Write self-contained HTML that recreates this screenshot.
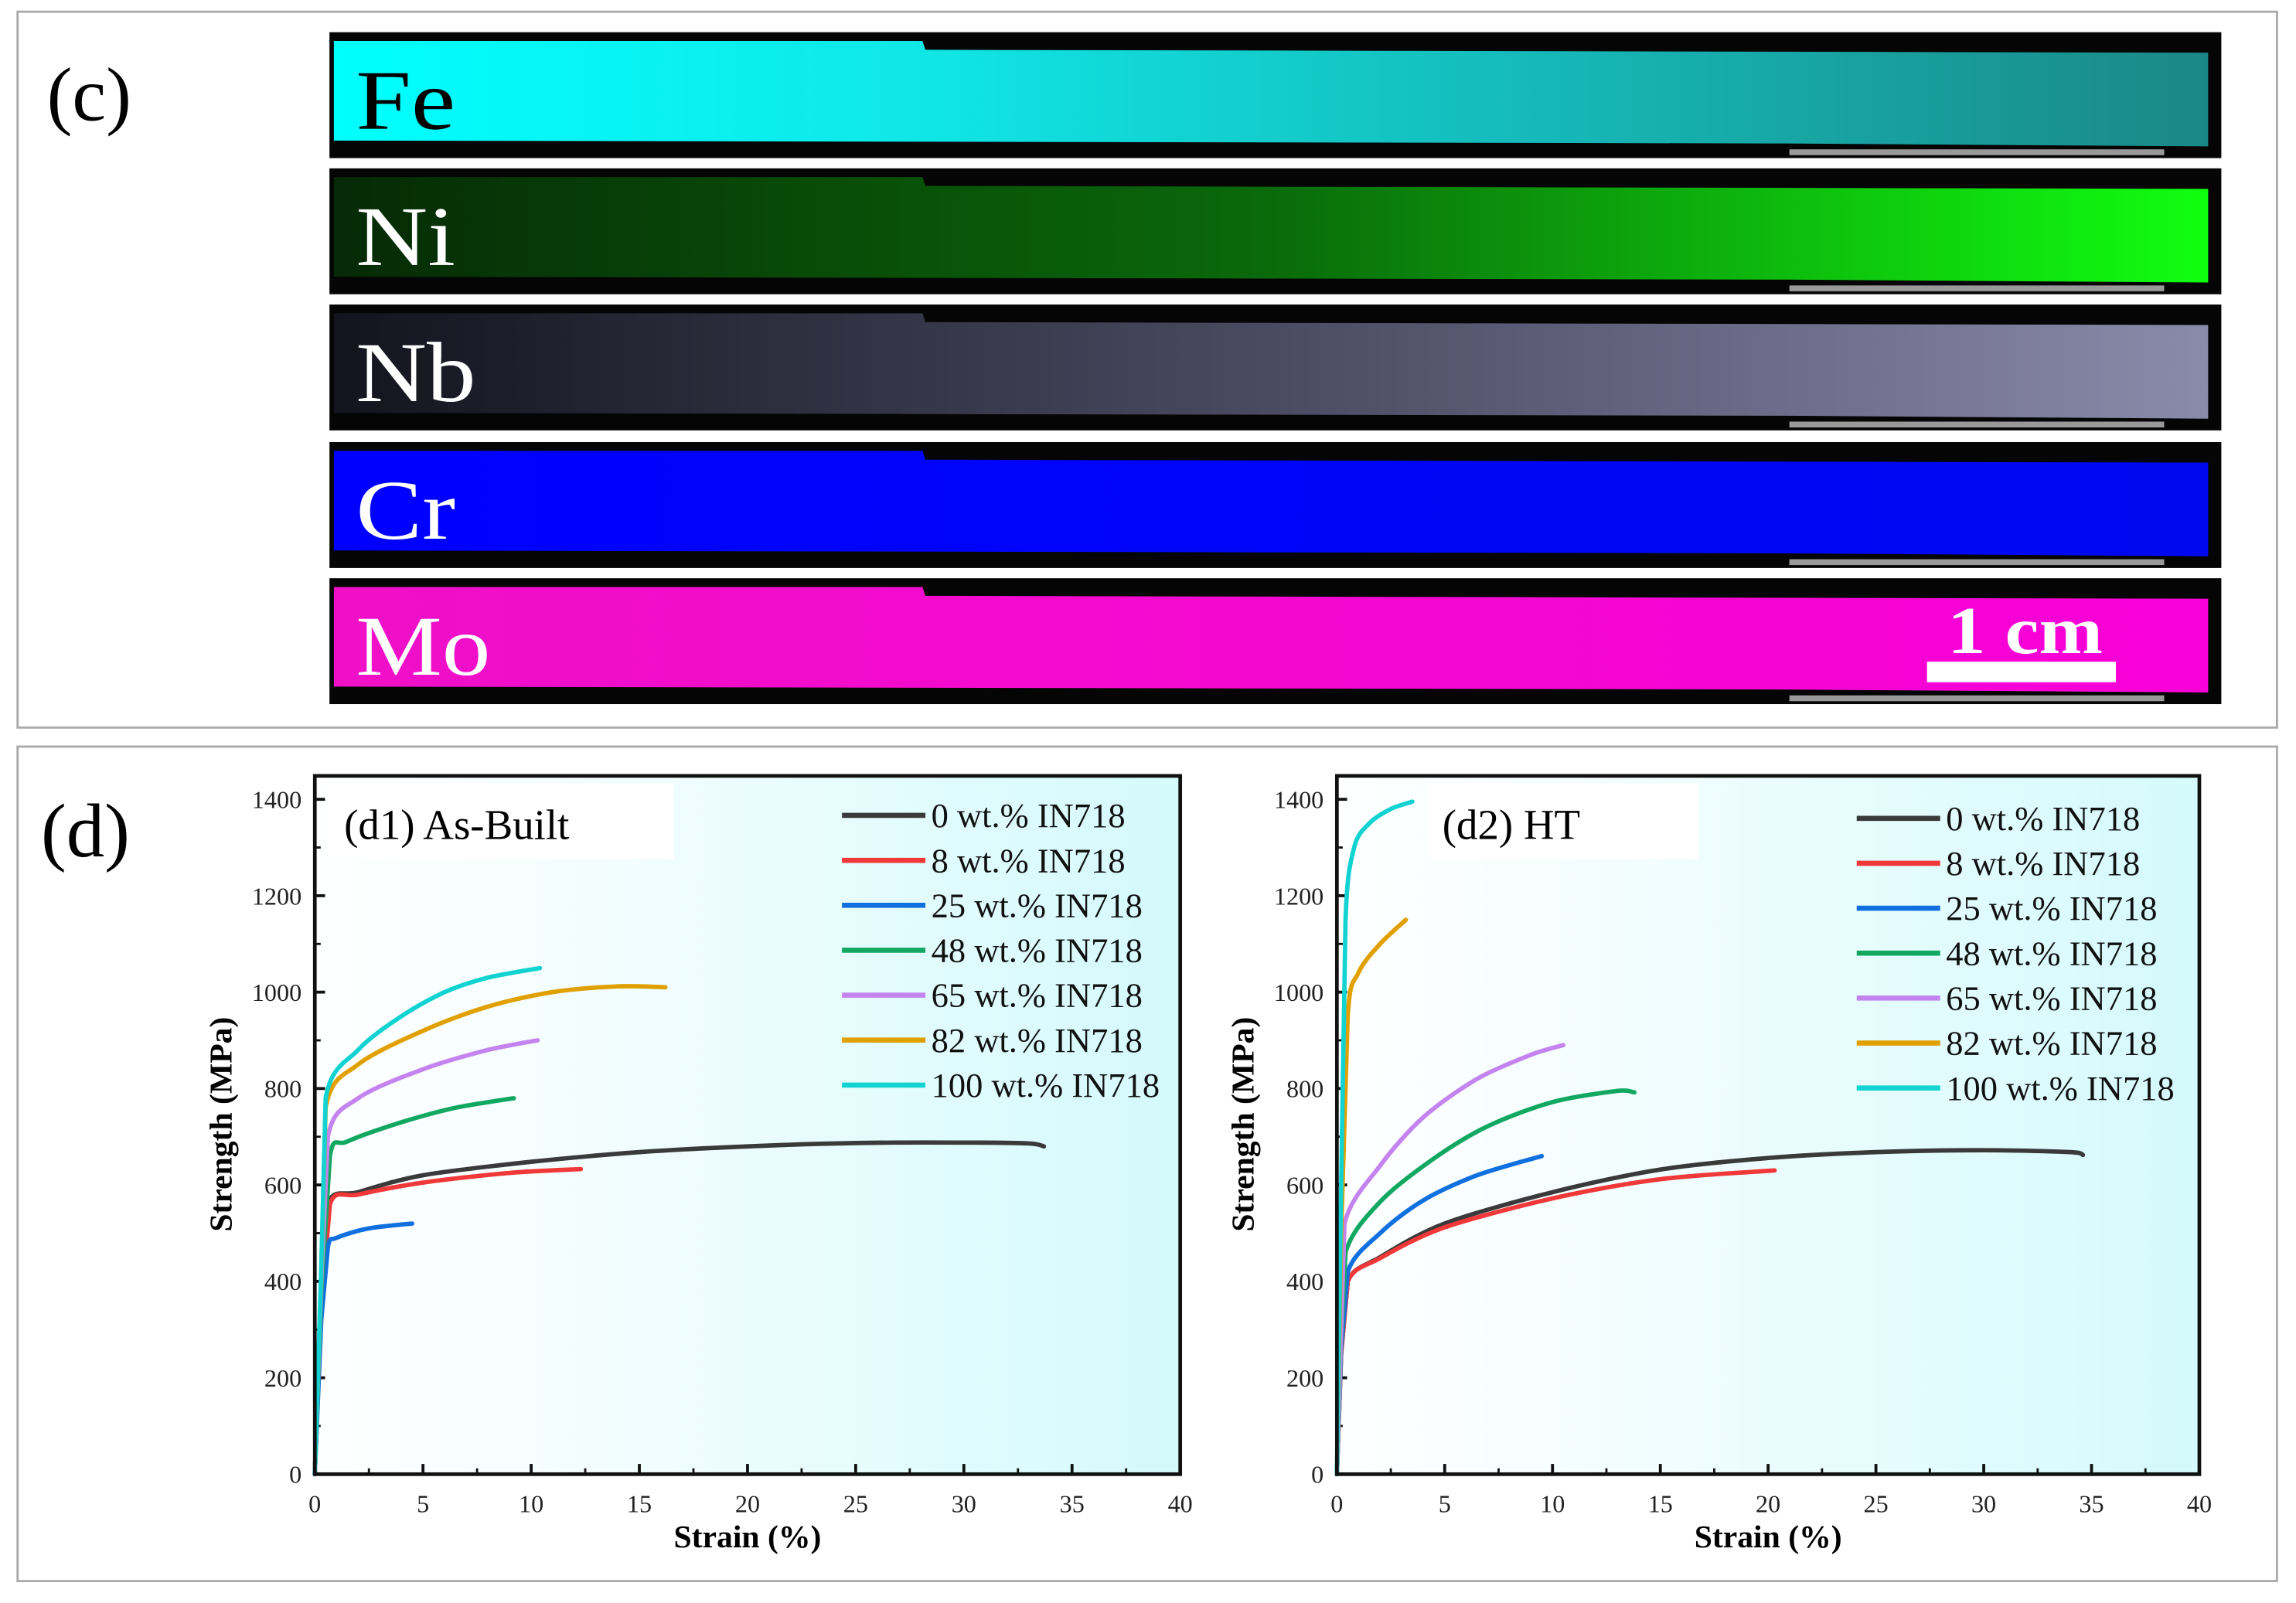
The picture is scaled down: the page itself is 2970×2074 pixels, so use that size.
<!DOCTYPE html>
<html><head><meta charset="utf-8"><style>
html,body{margin:0;padding:0;background:#fff;}
svg{display:block;}
text{font-family:"Liberation Serif",serif;}
</style></head><body>
<svg id="fig" width="2970" height="2074" viewBox="0 0 1568 1095" preserveAspectRatio="none" xmlns="http://www.w3.org/2000/svg">
<defs>
<linearGradient id="gFe" x1="0" x2="1"><stop offset="0" stop-color="#00ffff"/><stop offset="0.3" stop-color="#10e8e8"/><stop offset="1" stop-color="#1a8886"/></linearGradient>
<linearGradient id="gNi" x1="0" x2="1"><stop offset="0" stop-color="#062a06"/><stop offset="0.5" stop-color="#0a6a0a"/><stop offset="1" stop-color="#10ff10"/></linearGradient>
<linearGradient id="gNb" x1="0" x2="1"><stop offset="0" stop-color="#14141e"/><stop offset="0.5" stop-color="#4a4a62"/><stop offset="1" stop-color="#8a8aaa"/></linearGradient>
<linearGradient id="gCr" x1="0" x2="1"><stop offset="0" stop-color="#0000ff"/><stop offset="1" stop-color="#0008f0"/></linearGradient>
<linearGradient id="gMo" x1="0" x2="1"><stop offset="0" stop-color="#f010c8"/><stop offset="1" stop-color="#f800d8"/></linearGradient>
<linearGradient id="gPlot" x1="0" x2="1"><stop offset="0" stop-color="#ffffff"/><stop offset="0.35" stop-color="#f2fdfe"/><stop offset="1" stop-color="#d4fafc"/></linearGradient>
</defs>
<rect x="12" y="8" width="1543" height="489" fill="#fff" stroke="#aaa" stroke-width="1.5"/>
<text x="32" y="82" font-size="52">(c)</text>
<g id="strips"></g>
<rect x="12" y="510" width="1543" height="570" fill="#fff" stroke="#aaa" stroke-width="1.5"/>
<text x="28" y="585" font-size="52">(d)</text>
<g id="d1"></g>
<g id="d2"></g>
</svg>
<script>
const NS='http://www.w3.org/2000/svg';
function mk(tag,attrs,parent,txt){const e=document.createElementNS(NS,tag);for(const k in attrs)e.setAttribute(k,attrs[k]);if(txt!==undefined)e.textContent=txt;parent.appendChild(e);return e;}

const elements=['Fe','Ni','Nb','Cr','Mo'];
const stripTops=[22,115,208,302,395];
const labelW=[68,68,82,68,92];
const sg=document.getElementById('strips');
elements.forEach((el,i)=>{
  const y=stripTops[i];
  const g=mk('g',{},sg);
  
  
  mk('rect',{x:225,y:y,width:1292,height:86,fill:'#050505'},g);
  mk('path',{d:`M228 ${y+6} L630 ${y+6} L632 ${y+12} L1508 ${y+14} L1508 ${y+78} L1220 ${y+76} L228 ${y+74} Z`,fill:'url(#g'+el+')'},g);
  mk('rect',{x:1222,y:y+80,width:256,height:4,fill:'#999'},g);
  const t=mk('text',{x:243,y:y+66,'font-size':58,fill:el==='Fe'?'#000':'#fff',textLength:labelW[i],lengthAdjust:'spacingAndGlyphs'},g,el);
  
  
});
const sb=mk('text',{x:1330,y:446,'font-size':46,'font-weight':'bold',fill:'#fff',textLength:106,lengthAdjust:'spacingAndGlyphs'},sg,'1 cm');


const sr=mk('rect',{x:1316,y:452,width:129,height:14,fill:'#fff'},sg);



const seriesNames=['0 wt.% IN718','8 wt.% IN718','25 wt.% IN718','48 wt.% IN718','65 wt.% IN718','82 wt.% IN718','100 wt.% IN718'];
const seriesColors=['#3a3a3a','#f03838','#1070e0','#12a862','#c484f0','#e0a000','#12d2d2'];
const xTicks=[0,5,10,15,20,25,30,35,40];
const yTicks=[0,200,400,600,800,1000,1200,1400];
const ab0x=[0,0.3,0.6,2,5,10,15,20,25,30,33,33.7], ab0y=[0,350,560,585,620,648,668,680,687,688,686,680];
const ab8x=[0,0.3,0.7,2,5,9,12.3], ab8y=[0,350,560,580,605,625,633];
const ab25x=[0,0.3,0.6,1,2.5,4.5], ab25y=[0,320,470,490,510,520];
const ab48x=[0,0.3,0.7,1.5,4,6.5,9.2], ab48y=[0,380,660,690,730,760,780];
const ab65x=[0,0.3,0.6,2,5,8,10.3], ab65y=[0,400,700,780,840,880,900];
const ab82x=[0,0.3,0.5,2,5,8,11,14,16.2], ab82y=[0,420,760,850,920,970,1000,1012,1010];
const ab100x=[0,0.3,0.5,2,4,6,8,10.4], ab100y=[0,430,780,880,950,1000,1030,1050];
const ht0x=[0,0.2,0.5,2,5,10,15,20,25,30,34,34.6], ht0y=[0,250,400,450,520,585,632,656,668,672,668,662];
const ht8x=[0,0.2,0.5,2,5,10,15,20.3], ht8y=[0,250,400,448,512,572,612,630];
const ht25x=[0,0.2,0.5,2,4,6.5,9.5], ht25y=[0,260,420,500,568,620,660];
const ht48x=[0,0.2,0.4,2,4.5,7,10,13,13.8], ht48y=[0,280,460,565,655,722,772,795,792];
const ht65x=[0,0.2,0.35,2,4,6.5,9,10.5], ht65y=[0,300,520,640,740,820,870,890];
const ht82x=[0,0.2,0.5,1,2,3.2], ht82y=[0,500,950,1040,1100,1150];
const ht100x=[0,0.2,0.4,0.8,1.5,2.5,3.5], ht100y=[0,600,1150,1300,1350,1380,1395];

const asBuiltX=[ab0x,ab8x,ab25x,ab48x,ab65x,ab82x,ab100x], asBuiltY=[ab0y,ab8y,ab25y,ab48y,ab65y,ab82y,ab100y];
const htX=[ht0x,ht8x,ht25x,ht48x,ht65x,ht82x,ht100x], htY=[ht0y,ht8y,ht25y,ht48y,ht65y,ht82y,ht100y];

function smoothPath(pts){
  let d='M'+pts[0][0].toFixed(1)+' '+pts[0][1].toFixed(1);
  for(let i=0;i<pts.length-1;i++){
    const p1=pts[i],p2=pts[i+1];
    if(i<2){d+=` L${p2[0].toFixed(1)} ${p2[1].toFixed(1)}`;continue;}
    const p0=pts[i-1],p3=pts[i+2]||p2;
    const k=0.15;
    const c1=[p1[0]+(p2[0]-p0[0])*k,p1[1]+(p2[1]-p0[1])*k];
    const c2=[p2[0]-(p3[0]-p1[0])*k,p2[1]-(p3[1]-p1[1])*k];
    d+=` C${c1[0].toFixed(1)} ${c1[1].toFixed(1)} ${c2[0].toFixed(1)} ${c2[1].toFixed(1)} ${p2[0].toFixed(1)} ${p2[1].toFixed(1)}`;
  }
  return d;
}

function drawChart(g,L,R,title,titleBoxX,titleBoxW,legX,legY0,xs,ys,prefix){
  const B=1007,T=530,Y0=1007,Y1400=546;
  const sx=v=>L+(R-L)*v/40, sy=v=>Y0-(Y0-Y1400)*v/1400;
  mk('rect',{x:L,y:T,width:R-L,height:B-T,fill:'url(#gPlot)'},g);
  const tb=mk('rect',{x:titleBoxX,y:T+5,width:titleBoxW,height:52,fill:'#fff'},g);
  
  
  const tt=mk('text',{x:titleBoxX+10,y:T+43,'font-size':29},g,title);
  
  
  xTicks.forEach(v=>{
    mk('line',{x1:sx(v),x2:sx(v),y1:B,y2:B-7,stroke:'#111','stroke-width':2},g);
    if(v<40) mk('line',{x1:sx(v+2.5),x2:sx(v+2.5),y1:B,y2:B-4,stroke:'#111','stroke-width':1.5},g);
    const t=mk('text',{x:sx(v),y:B+26,'font-size':17,'text-anchor':'middle',fill:'#222'},g,String(v));
    
    
  });
  yTicks.forEach(v=>{
    mk('line',{x1:L,x2:L+7,y1:sy(v),y2:sy(v),stroke:'#111','stroke-width':2},g);
    if(v<1400) mk('line',{x1:L,x2:L+4,y1:sy(v+100),y2:sy(v+100),stroke:'#111','stroke-width':1.5},g);
    const t=mk('text',{x:L-9,y:sy(v)+6,'font-size':17,'text-anchor':'end',fill:'#222'},g,String(v));
    
    
  });
  xs.forEach((arr,i)=>{
    const pts=arr.map((v,j)=>[sx(v),sy(ys[i][j])]);
    const p=mk('path',{d:smoothPath(pts),fill:'none',stroke:seriesColors[i],'stroke-width':3,'stroke-linejoin':'round','stroke-linecap':'round'},g);
    
    
  });
  mk('rect',{x:L,y:T,width:R-L,height:B-T,fill:'none',stroke:'#111','stroke-width':2.5},g);
  seriesNames.forEach((n,i)=>{
    const y=legY0+i*30.7;
    const lg=mk('g',{},g);
    
    
    mk('line',{x1:legX,x2:legX+57,y1:y,y2:y,stroke:seriesColors[i],'stroke-width':3.5},lg);
    mk('text',{x:legX+61,y:y+8,'font-size':23.5,fill:'#111'},lg,n);
  });
  const xt=mk('text',{x:(L+R)/2,y:1057,'font-size':22,'font-weight':'bold','text-anchor':'middle'},g,'Strain (%)');
  
  
  const yt=mk('text',{x:0,y:0,'font-size':22,'font-weight':'bold','text-anchor':'middle',transform:`translate(${L-57},768) rotate(-90)`},g,'Strength (MPa)');
  
  
}
drawChart(document.getElementById('d1'),215,806,'(d1) As-Built',225,235,575,557,asBuiltX,asBuiltY,'d1');
drawChart(document.getElementById('d2'),913,1502,'(d2) HT',975,185,1268,559,htX,htY,'d2');
</script>
</body></html>
